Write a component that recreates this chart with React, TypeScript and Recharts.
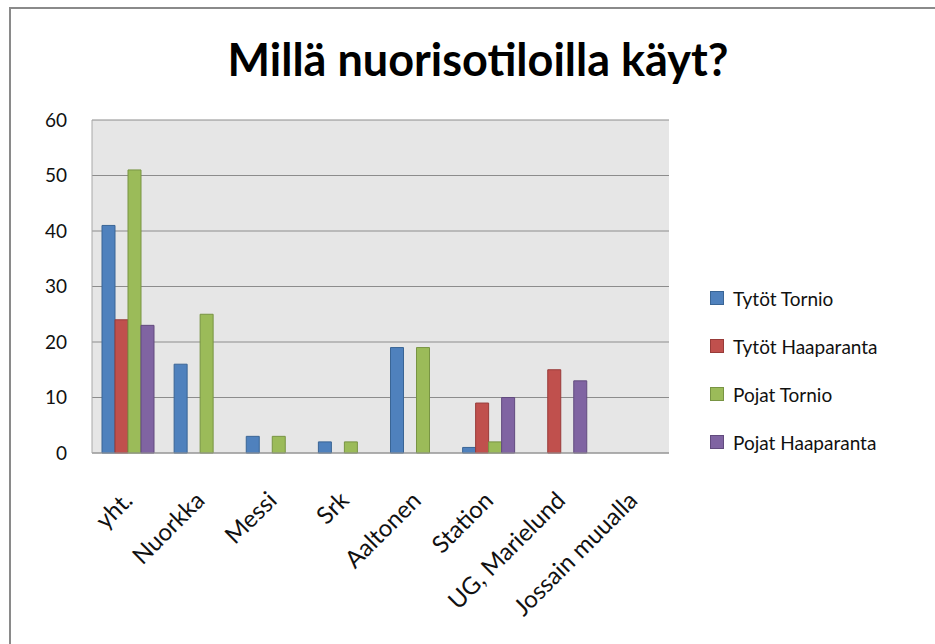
import { BarChart, Bar, XAxis, YAxis, CartesianGrid } from 'recharts'

const categories = ['yht.', 'Nuorkka', 'Messi', 'Srk', 'Aaltonen', 'Station', 'UG, Marielund', 'Jossain muualla']
const tytotTornio = [41, 16, 3, 2, 19, 1, 0, 0]
const tytotHaaparanta = [24, 0, 0, 0, 0, 9, 15, 0]
const pojatTornio = [51, 25, 3, 2, 19, 2, 0, 0]
const pojatHaaparanta = [23, 0, 0, 0, 0, 10, 13, 0]
const yTicks = [0, 10, 20, 30, 40, 50, 60]

const series = [
  { key: 'tt', name: 'Tytöt Tornio', fill: '#4f81bd', stroke: '#3a6595' },
  { key: 'th', name: 'Tytöt Haaparanta', fill: '#c0504d', stroke: '#983b39' },
  { key: 'pt', name: 'Pojat Tornio', fill: '#9bbb59', stroke: '#789443' },
  { key: 'ph', name: 'Pojat Haaparanta', fill: '#8064a2', stroke: '#624b7e' },
]

const data = categories.map((c, i) => ({
  name: c,
  tt: tytotTornio[i],
  th: tytotHaaparanta[i],
  pt: pojatTornio[i],
  ph: pojatHaaparanta[i],
}))

const FONT = 'Lato, "Open Sans", sans-serif'

const XTick = (props: any) => {
  const { x, y, payload } = props
  const ax = x + 6
  const ay = y + 41
  return (
    <text x={ax} y={ay} textAnchor="end" transform={`rotate(-45 ${ax} ${ay})`} fontFamily={FONT} fontSize={24} fill="#111">
      {payload.value}
    </text>
  )
}

export default function App() {
  return (
    <div style={{ position: 'fixed', left: 0, top: 0, width: 935, height: 644, background: '#fff' }}>
      <div style={{ position: 'absolute', left: 9, top: 7, width: 926, height: 637, borderTop: '2px solid #8a8a8a', borderLeft: '2px solid #8a8a8a' }} />
      <div style={{ position: 'absolute', left: 0, top: 32, width: 956, textAlign: 'center', fontFamily: FONT, fontWeight: 700, fontSize: 45, color: '#000' }}>
        Millä nuorisotiloilla käyt?
      </div>
      <div style={{ position: 'absolute', left: 0, top: 0 }}>
        <BarChart width={935} height={644} data={data} margin={{ top: 120, right: 266, bottom: 0, left: 0 }} barCategoryGap={10} barGap={0}>
          <CartesianGrid fill="#e6e6e6" stroke="#8c8c8c" vertical={false} />
          <XAxis dataKey="name" height={191} interval={0} tickLine={false} axisLine={{ stroke: '#9a9a9a' }} tick={<XTick />} />
          <YAxis width={92} domain={[0, 60]} ticks={yTicks} interval={0} tickLine={false} tickSize={0} tickMargin={25} axisLine={{ stroke: '#a8a8a8' }} tick={{ fontFamily: FONT, fontSize: 19, fill: '#111' }} />
          {series.map((s) => (
            <Bar key={s.key} dataKey={s.key} name={s.name} fill={s.fill} stroke={s.stroke} strokeWidth={1} isAnimationActive={false} />
          ))}
        </BarChart>
      </div>
      <div style={{ position: 'absolute', left: 710, top: 274, fontFamily: FONT, fontSize: 19, color: '#111' }}>
        {series.map((s) => (
          <div key={s.key} style={{ height: 48, display: 'flex', alignItems: 'center' }}>
            <span style={{ width: 12, height: 12, background: s.fill, border: `1px solid ${s.stroke}`, marginRight: 9, display: 'inline-block' }} />
            {s.name}
          </div>
        ))}
      </div>
    </div>
  )
}
